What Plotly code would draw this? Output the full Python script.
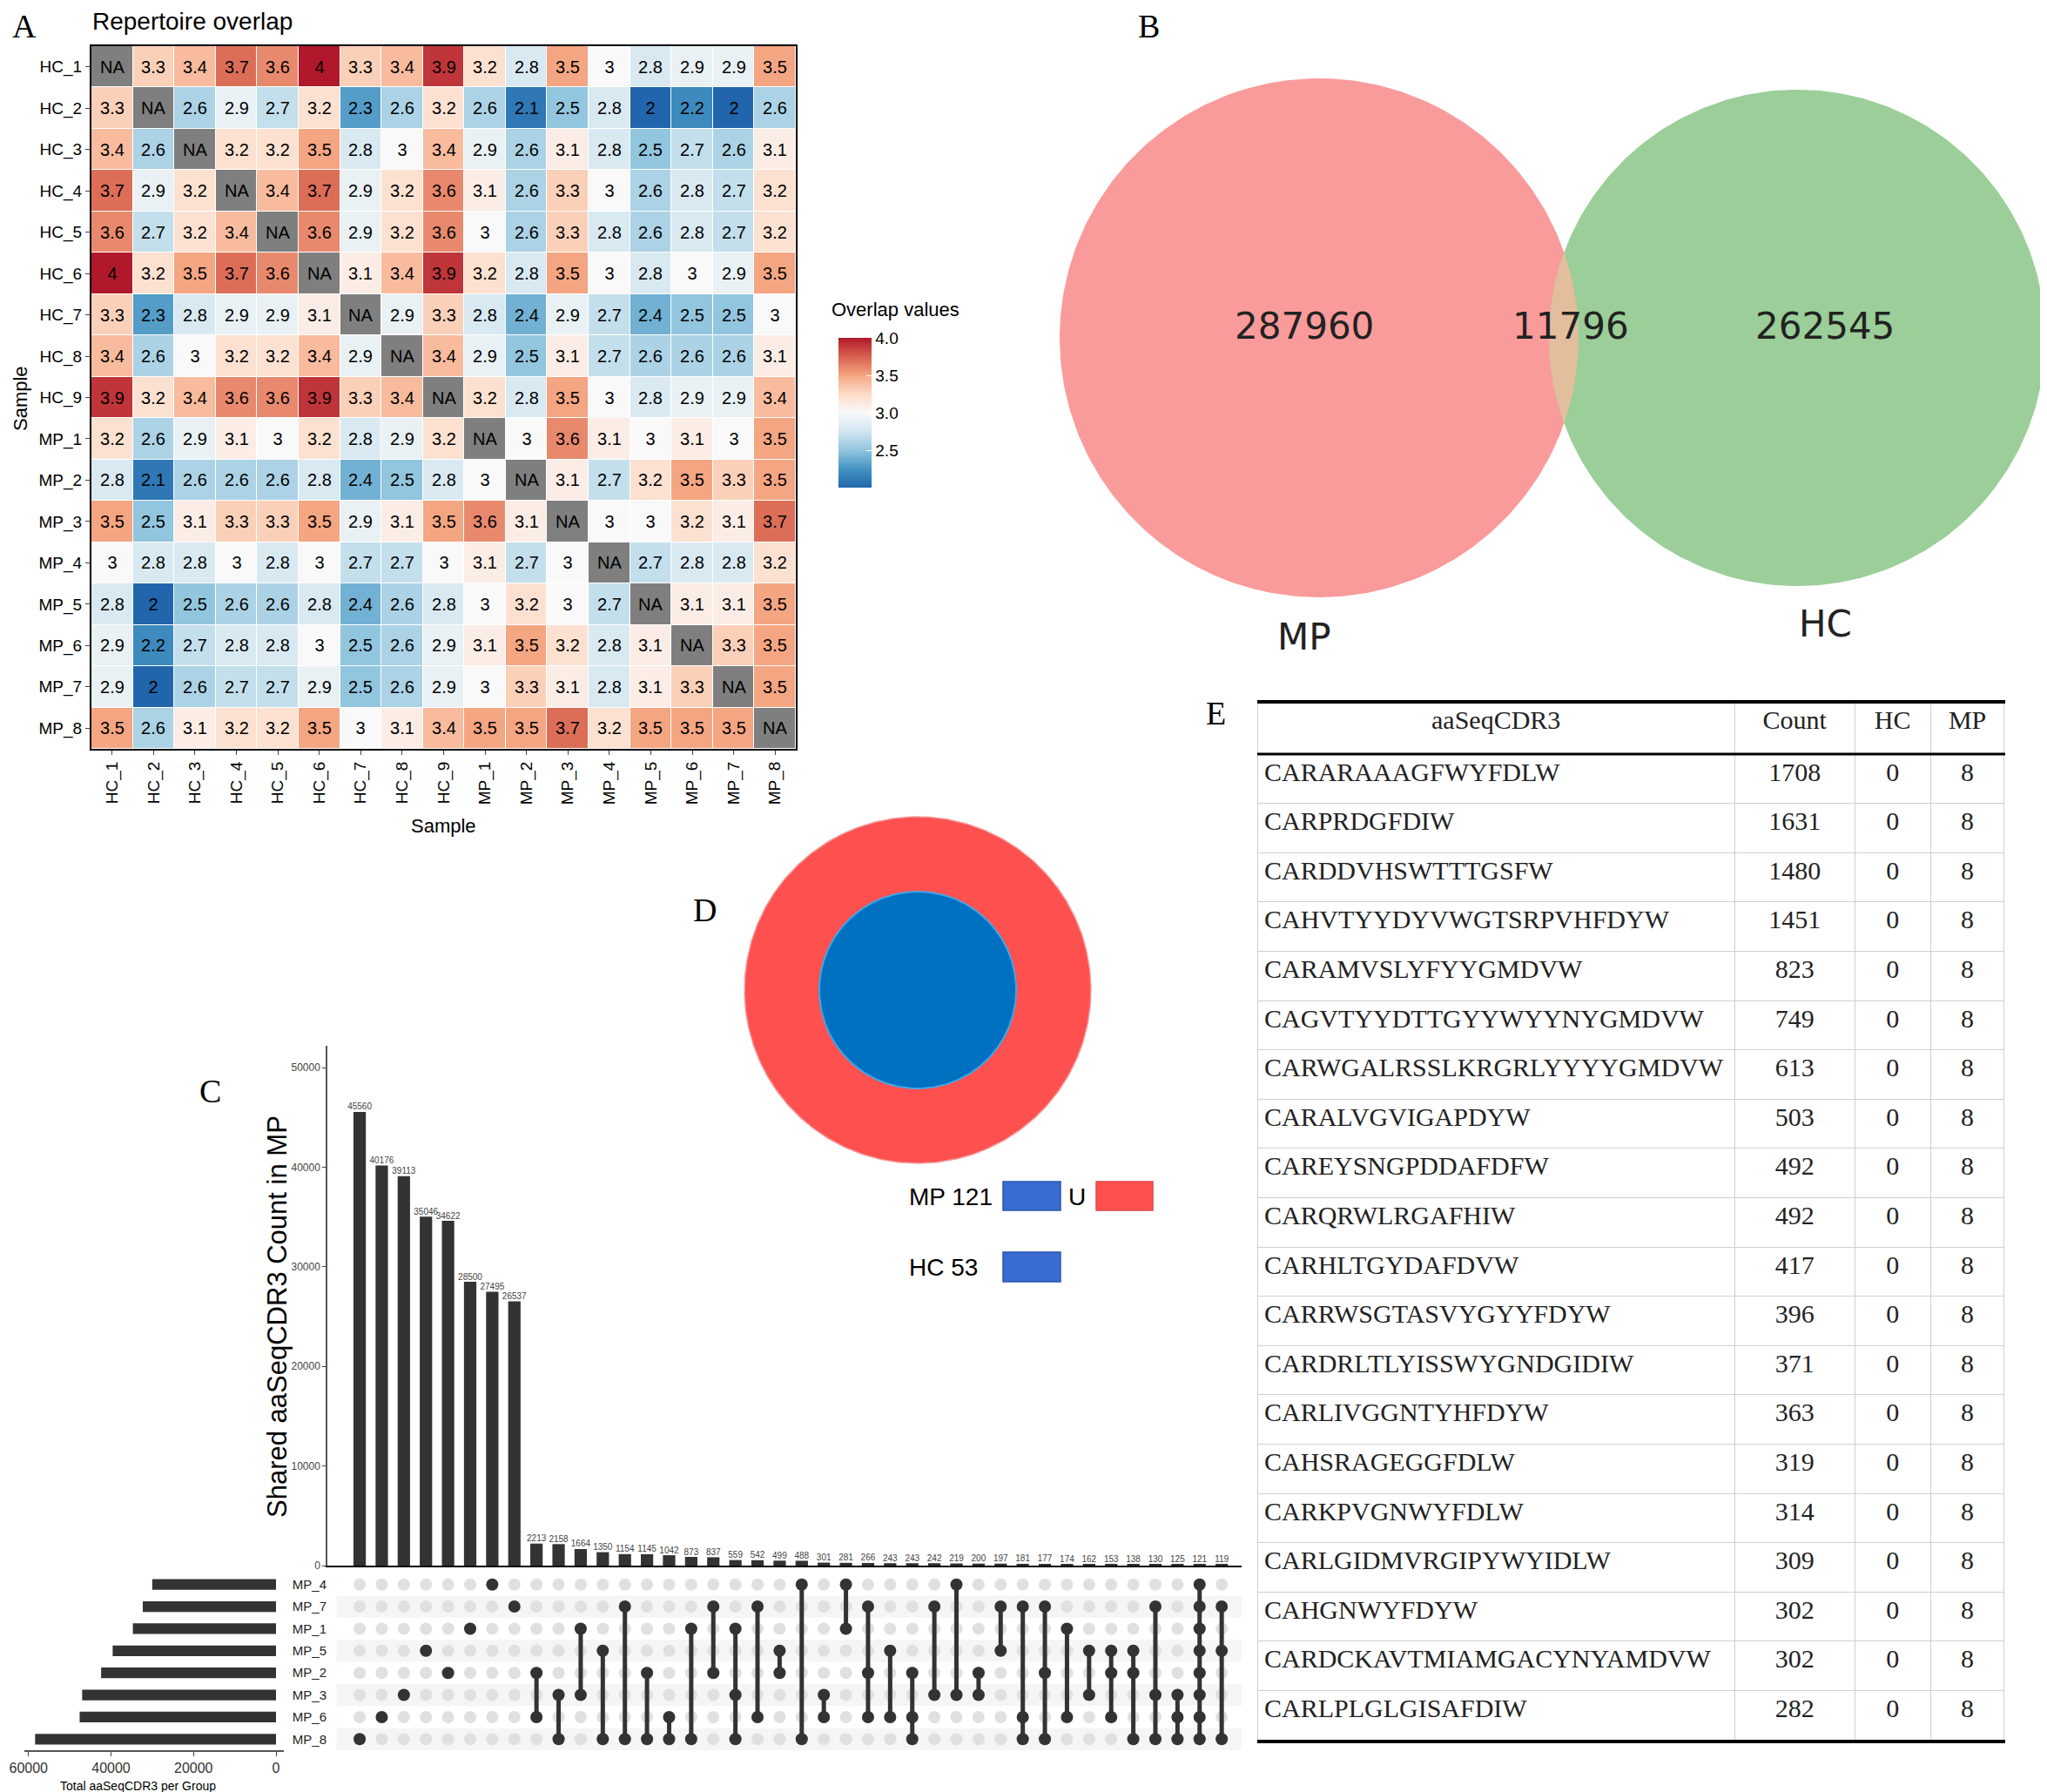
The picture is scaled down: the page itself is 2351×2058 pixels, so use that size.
import numpy as np
import plotly.graph_objects as go

W, H = 2351, 2058

# ---------------- A: repertoire overlap ----------------
samples = ["HC_1", "HC_2", "HC_3", "HC_4", "HC_5", "HC_6", "HC_7", "HC_8", "HC_9",
           "MP_1", "MP_2", "MP_3", "MP_4", "MP_5", "MP_6", "MP_7", "MP_8"]
NA = None
overlap = [
    [NA, 3.3, 3.4, 3.7, 3.6, 4.0, 3.3, 3.4, 3.9, 3.2, 2.8, 3.5, 3.0, 2.8, 2.9, 2.9, 3.5],
    [3.3, NA, 2.6, 2.9, 2.7, 3.2, 2.3, 2.6, 3.2, 2.6, 2.1, 2.5, 2.8, 2.0, 2.2, 2.0, 2.6],
    [3.4, 2.6, NA, 3.2, 3.2, 3.5, 2.8, 3.0, 3.4, 2.9, 2.6, 3.1, 2.8, 2.5, 2.7, 2.6, 3.1],
    [3.7, 2.9, 3.2, NA, 3.4, 3.7, 2.9, 3.2, 3.6, 3.1, 2.6, 3.3, 3.0, 2.6, 2.8, 2.7, 3.2],
    [3.6, 2.7, 3.2, 3.4, NA, 3.6, 2.9, 3.2, 3.6, 3.0, 2.6, 3.3, 2.8, 2.6, 2.8, 2.7, 3.2],
    [4.0, 3.2, 3.5, 3.7, 3.6, NA, 3.1, 3.4, 3.9, 3.2, 2.8, 3.5, 3.0, 2.8, 3.0, 2.9, 3.5],
    [3.3, 2.3, 2.8, 2.9, 2.9, 3.1, NA, 2.9, 3.3, 2.8, 2.4, 2.9, 2.7, 2.4, 2.5, 2.5, 3.0],
    [3.4, 2.6, 3.0, 3.2, 3.2, 3.4, 2.9, NA, 3.4, 2.9, 2.5, 3.1, 2.7, 2.6, 2.6, 2.6, 3.1],
    [3.9, 3.2, 3.4, 3.6, 3.6, 3.9, 3.3, 3.4, NA, 3.2, 2.8, 3.5, 3.0, 2.8, 2.9, 2.9, 3.4],
    [3.2, 2.6, 2.9, 3.1, 3.0, 3.2, 2.8, 2.9, 3.2, NA, 3.0, 3.6, 3.1, 3.0, 3.1, 3.0, 3.5],
    [2.8, 2.1, 2.6, 2.6, 2.6, 2.8, 2.4, 2.5, 2.8, 3.0, NA, 3.1, 2.7, 3.2, 3.5, 3.3, 3.5],
    [3.5, 2.5, 3.1, 3.3, 3.3, 3.5, 2.9, 3.1, 3.5, 3.6, 3.1, NA, 3.0, 3.0, 3.2, 3.1, 3.7],
    [3.0, 2.8, 2.8, 3.0, 2.8, 3.0, 2.7, 2.7, 3.0, 3.1, 2.7, 3.0, NA, 2.7, 2.8, 2.8, 3.2],
    [2.8, 2.0, 2.5, 2.6, 2.6, 2.8, 2.4, 2.6, 2.8, 3.0, 3.2, 3.0, 2.7, NA, 3.1, 3.1, 3.5],
    [2.9, 2.2, 2.7, 2.8, 2.8, 3.0, 2.5, 2.6, 2.9, 3.1, 3.5, 3.2, 2.8, 3.1, NA, 3.3, 3.5],
    [2.9, 2.0, 2.6, 2.7, 2.7, 2.9, 2.5, 2.6, 2.9, 3.0, 3.3, 3.1, 2.8, 3.1, 3.3, NA, 3.5],
    [3.5, 2.6, 3.1, 3.2, 3.2, 3.5, 3.0, 3.1, 3.4, 3.5, 3.5, 3.7, 3.2, 3.5, 3.5, 3.5, NA],
]
legend_ticks = [2.5, 3.0, 3.5, 4.0]

# ---------------- B: venn ----------------
venn_groups = ["MP", "HC"]
venn_only = [287960, 262545]
venn_shared = 11796

# ---------------- C: upset ----------------
upset_sets = ["MP_4", "MP_7", "MP_1", "MP_5", "MP_2", "MP_3", "MP_6", "MP_8"]
set_totals = [30000, 32300, 34700, 39600, 42400, 47000, 47600, 58400]
inter_counts = [45560, 40176, 39113, 35046, 34622, 28500, 27495, 26537, 2213, 2158,
                1664, 1350, 1154, 1145, 1042, 873, 837, 559, 542, 499,
                488, 301, 281, 266, 243, 243, 242, 219, 200, 197,
                181, 177, 174, 162, 153, 138, 130, 125, 121, 119]
inter_members = [
    ["MP_8"], ["MP_6"], ["MP_3"], ["MP_5"], ["MP_2"], ["MP_1"], ["MP_4"], ["MP_7"],
    ["MP_2", "MP_6"], ["MP_3", "MP_8"], ["MP_1", "MP_3"], ["MP_5", "MP_8"],
    ["MP_7", "MP_8"], ["MP_2", "MP_8"], ["MP_6", "MP_8"], ["MP_1", "MP_8"],
    ["MP_7", "MP_2"], ["MP_1", "MP_3", "MP_8"], ["MP_7", "MP_6"], ["MP_5", "MP_2"],
    ["MP_4", "MP_8"], ["MP_3", "MP_6"], ["MP_4", "MP_1"], ["MP_7", "MP_2", "MP_6"],
    ["MP_5", "MP_6"], ["MP_2", "MP_6", "MP_8"], ["MP_7", "MP_3"], ["MP_4", "MP_3"],
    ["MP_2", "MP_3"], ["MP_7", "MP_5"], ["MP_7", "MP_6", "MP_8"], ["MP_7", "MP_2", "MP_8"],
    ["MP_1", "MP_6"], ["MP_5", "MP_3"], ["MP_5", "MP_2", "MP_6"], ["MP_5", "MP_2", "MP_8"],
    ["MP_7", "MP_3", "MP_8"], ["MP_3", "MP_6", "MP_8"],
    ["MP_4", "MP_7", "MP_1", "MP_5", "MP_2", "MP_3", "MP_6", "MP_8"],
    ["MP_7", "MP_5", "MP_8"],
]

# ---------------- D: core clonotypes ----------------
core_groups = ["MP", "HC"]
core_counts = [121, 53]

# ---------------- E: table ----------------
cdr3_seqs = ["CARARAAAGFWYFDLW", "CARPRDGFDIW", "CARDDVHSWTTTGSFW", "CAHVTYYDYVWGTSRPVHFDYW",
             "CARAMVSLYFYYGMDVW", "CAGVTYYDTTGYYWYYNYGMDVW", "CARWGALRSSLKRGRLYYYYGMDVW",
             "CARALVGVIGAPDYW", "CAREYSNGPDDAFDFW", "CARQRWLRGAFHIW", "CARHLTGYDAFDVW",
             "CARRWSGTASVYGYYFDYW", "CARDRLTLYISSWYGNDGIDIW", "CARLIVGGNTYHFDYW",
             "CAHSRAGEGGFDLW", "CARKPVGNWYFDLW", "CARLGIDMVRGIPYWYIDLW", "CAHGNWYFDYW",
             "CARDCKAVTMIAMGACYNYAMDVW", "CARLPLGLGISAFDIW"]
cdr3_counts = [1708, 1631, 1480, 1451, 823, 749, 613, 503, 492, 492,
               417, 396, 371, 363, 319, 314, 309, 302, 302, 282]
cdr3_hc = [0] * 20
cdr3_mp = [8] * 20


def px(x):
    return x / W


def py(y):
    return 1 - y / H


fig = go.Figure()

# heatmap
rdbu = [[0, "#2166AC"], [0.125, "#4393C3"], [0.25, "#92C5DE"], [0.375, "#D1E5F0"],
        [0.5, "#F9F9F9"], [0.625, "#FDDBC7"], [0.75, "#F4A582"], [0.875, "#D6604D"],
        [1, "#B2182B"]]
heat_text = [["" if v is None else f"{v:g}" for v in row] for row in overlap]
na_z = [[1 if v is None else None for v in row] for row in overlap]
na_text = [["NA" if v is None else "" for v in row] for row in overlap]

fig.add_trace(go.Heatmap(
    x=samples, y=samples, z=overlap, text=heat_text, texttemplate="%{text}",
    textfont=dict(size=20, family="Liberation Sans", color="black"),
    colorscale=rdbu, zmin=2, zmax=4, xgap=1, ygap=1, hoverinfo="skip",
    colorbar=dict(x=px(945), xanchor="left", y=py(466), yanchor="middle",
                  len=192, lenmode="pixels", thickness=38, thicknessmode="pixels",
                  outlinewidth=0, tickvals=legend_ticks,
                  ticktext=[f"{t:.1f}" for t in legend_ticks],
                  ticks="inside", ticklen=6, tickcolor="white",
                  tickfont=dict(size=19, family="Liberation Sans", color="black")),
    xaxis="x", yaxis="y"))
fig.add_trace(go.Heatmap(
    x=samples, y=samples, z=na_z, text=na_text, texttemplate="%{text}",
    textfont=dict(size=20, family="Liberation Sans", color="black"),
    colorscale=[[0, "#7F7F7F"], [1, "#7F7F7F"]], showscale=False,
    xgap=1, ygap=1, hoverinfo="skip", xaxis="x", yaxis="y"))

# upset: intersection bars
idx = list(range(1, len(inter_counts) + 1))
fig.add_trace(go.Bar(
    x=idx, y=inter_counts, width=0.56, marker=dict(color="#333333", line=dict(width=0)),
    hoverinfo="skip", xaxis="x2", yaxis="y2"))
fig.add_trace(go.Scatter(
    x=idx, y=inter_counts, mode="text", text=[str(c) for c in inter_counts],
    textposition="top center", cliponaxis=False,
    textfont=dict(size=10, family="Liberation Sans", color="#444444"),
    hoverinfo="skip", xaxis="x2", yaxis="y2"))

# upset: matrix
gx, gy = [], []
for i in idx:
    for s in upset_sets:
        gx.append(i)
        gy.append(s)
fig.add_trace(go.Scatter(x=gx, y=gy, mode="markers",
                         marker=dict(size=14, color="#E0E0E0"), hoverinfo="skip",
                         xaxis="x3", yaxis="y3"))
lx, ly, dx, dy = [], [], [], []
for i, mem in zip(idx, inter_members):
    rows = sorted(upset_sets.index(m) for m in mem)
    if len(rows) > 1:
        lx += [i, i, None]
        ly += [upset_sets[rows[0]], upset_sets[rows[-1]], None]
    for m in mem:
        dx.append(i)
        dy.append(m)
fig.add_trace(go.Scatter(x=lx, y=ly, mode="lines", line=dict(color="#333333", width=5),
                         hoverinfo="skip", xaxis="x3", yaxis="y3"))
fig.add_trace(go.Scatter(x=dx, y=dy, mode="markers",
                         marker=dict(size=14, color="#333333"), hoverinfo="skip",
                         xaxis="x3", yaxis="y3"))

# upset: set size bars
fig.add_trace(go.Bar(x=set_totals, y=upset_sets, orientation="h", width=0.48,
                     marker=dict(color="#333333", line=dict(width=0)), hoverinfo="skip",
                     xaxis="x4", yaxis="y4"))

# overlay (pixel space) for venn and donut
th = np.linspace(0, 2 * np.pi, 400)
k = 298 / np.sqrt(venn_only[0] + venn_shared)
r1 = k * np.sqrt(venn_only[0] + venn_shared)
r2 = k * np.sqrt(venn_only[1] + venn_shared)
c1, c2, cy = 1507, 2056, 380
fig.add_trace(go.Scatter(x=c1 + r1 * np.cos(th), y=cy + r1 * np.sin(th), fill="toself",
                         fillcolor="#FA9B9B", mode="lines", line=dict(width=0),
                         hoverinfo="skip", xaxis="x5", yaxis="y5"))
fig.add_trace(go.Scatter(x=c2 + r2 * np.cos(th), y=cy + r2 * np.sin(th), fill="toself",
                         fillcolor="#9BCE98", mode="lines", line=dict(width=0),
                         hoverinfo="skip", xaxis="x5", yaxis="y5"))
d = c2 - c1
a = (d ** 2 + r1 ** 2 - r2 ** 2) / (2 * d)
t1 = np.arccos(a / r1)
t2 = np.arccos((d - a) / r2)
arc1 = np.linspace(-t1, t1, 100)
arc2 = np.linspace(np.pi - t2, np.pi + t2, 100)
lens_x = np.concatenate([c1 + r1 * np.cos(arc1), c2 + r2 * np.cos(arc2)])
lens_y = np.concatenate([cy + r1 * np.sin(arc1), cy + r2 * np.sin(arc2)])
fig.add_trace(go.Scatter(x=lens_x, y=lens_y, fill="toself", fillcolor="#E2BE9C",
                         mode="lines", line=dict(width=0), hoverinfo="skip",
                         xaxis="x5", yaxis="y5"))

# donut (D)
dcx, dcy = 1046, 1129
fig.add_trace(go.Scatter(x=dcx + 199 * np.cos(th), y=dcy + 199 * np.sin(th), fill="toself",
                         fillcolor="#FF5050", mode="lines", line=dict(width=1.5, color="#F0A0A0"),
                         hoverinfo="skip", xaxis="x5", yaxis="y5"))
fig.add_trace(go.Scatter(x=dcx + 113 * np.cos(th), y=dcy + 113 * np.sin(th), fill="toself",
                         fillcolor="#0070C0", mode="lines", line=dict(width=2, color="#3FA6E8"),
                         hoverinfo="skip", xaxis="x5", yaxis="y5"))

# table (E)
tfont = "Liberation Serif"
fig.add_trace(go.Table(
    domain=dict(x=[px(1436), px(2295)], y=[py(1992), py(798)]),
    columnwidth=[549, 138, 87, 85],
    header=dict(values=["aaSeqCDR3", "Count", "HC", "MP"], align="center", height=60,
                font=dict(family=tfont, size=30, color="#222222"), fill_color="white",
                line=dict(color="#CFCFCF", width=1)),
    cells=dict(values=[cdr3_seqs, cdr3_counts, cdr3_hc, cdr3_mp],
               align=["left", "center", "center", "center"], height=56.6,
               font=dict(family=tfont, size=30, color="#222222"), fill_color="white",
               line=dict(color="#CFCFCF", width=1))))

# annotations in pixel space
ann = []


def label(x, y, text, size, family="Liberation Sans", color="black",
          xanchor="center", angle=0):
    ann.append(dict(x=x, y=y, xref="x5", yref="y5", text=text, showarrow=False,
                    font=dict(size=size, family=family, color=color),
                    xanchor=xanchor, yanchor="middle", textangle=angle))


for letter, lx_, ly_ in [("A", 20, 22), ("B", 1311, 22), ("C", 233, 1245),
                         ("D", 801, 1037), ("E", 1388, 811)]:
    label(lx_, ly_, letter, 38, family="Liberation Serif")

label(96, 16, "Repertoire overlap", 28, xanchor="left")
label(501, 940, "Sample", 22)
label(15, 450, "Sample", 22, angle=-90)
label(945, 347, "Overlap values", 22, xanchor="left")

label(1490, 366, str(venn_only[0]), 42, family="DejaVu Sans", color="#222222")
label(1796, 366, str(venn_shared), 42, family="DejaVu Sans", color="#222222")
label(2088, 366, str(venn_only[1]), 42, family="DejaVu Sans", color="#222222")
label(1490, 723, venn_groups[0], 42, family="DejaVu Sans", color="#222222")
label(2088, 708, venn_groups[1], 42, family="DejaVu Sans", color="#222222")

label(310, 1504, "Shared aaSeqCDR3 Count in MP", 31, angle=-90)
label(150, 2043, "Total aaSeqCDR3 per Group", 14)

label(1034, 1366, f"{core_groups[0]} {core_counts[0]}", 28, xanchor="left")
label(1229, 1366, "U", 28)
label(1034, 1447, f"{core_groups[1]} {core_counts[1]}", 28, xanchor="left")

shapes = []
# legend boxes in D
for x0, y0, x1, y1, fc, lc in [(1144, 1349, 1210, 1382, "#3A6BD0", "#2A55B0"),
                               (1251, 1349, 1316, 1382, "#FF5050", "#E04545"),
                               (1144, 1430, 1210, 1464, "#3A6BD0", "#2A55B0")]:
    shapes.append(dict(type="rect", xref="x5", yref="y5", x0=x0, y0=y0, x1=x1, y1=y1,
                       fillcolor=fc, line=dict(color=lc, width=1.5), layer="above"))
# table rules
for yy, wd in [(798, 4), (858, 3), (1992, 4)]:
    shapes.append(dict(type="line", xref="x5", yref="y5", x0=1436, x1=2295, y0=yy, y1=yy,
                       line=dict(color="black", width=wd), layer="above"))
# upset matrix stripes
for k_row in [1, 3, 5, 7]:
    shapes.append(dict(type="rect", xref="x3 domain", yref="y3", x0=0.01, x1=1,
                       y0=k_row - 0.5, y1=k_row + 0.5, fillcolor="#F5F5F5",
                       line=dict(width=0), layer="below"))

xr = [-0.46, 40.9]
fig.update_layout(
    width=W, height=H, margin=dict(l=0, r=0, t=0, b=0),
    paper_bgcolor="white", plot_bgcolor="rgba(0,0,0,0)", template="none",
    showlegend=False, annotations=ann, shapes=shapes,
    font=dict(family="Liberation Sans", color="black"),
    xaxis=dict(domain=[px(97), px(906)], anchor="y", tickangle=-90, ticks="outside",
               ticklen=5, tickfont=dict(size=19), showline=True, mirror=True,
               linecolor="black", linewidth=2, showgrid=False, zeroline=False),
    yaxis=dict(domain=[py(852), py(45)], anchor="x", autorange="reversed", ticks="outside",
               ticklen=5, tickfont=dict(size=19), showline=True, mirror=True,
               linecolor="black", linewidth=2, showgrid=False, zeroline=False),
    xaxis2=dict(domain=[px(368), px(1418)], anchor="y2", range=xr, showticklabels=False,
                ticks="", showline=True, linecolor="black", linewidth=2,
                showgrid=False, zeroline=False),
    yaxis2=dict(domain=[py(1790), py(1193)], anchor="x2", range=[0, 52200],
                tickvals=[0, 10000, 20000, 30000, 40000, 50000], tickformat="d",
                ticks="outside", ticklen=4,
                tickfont=dict(size=12, color="#444444"), showline=True, linecolor="#555555",
                linewidth=1.5, showgrid=False, zeroline=False),
    xaxis3=dict(domain=[px(368), px(1418)], anchor="y3", range=xr, visible=False),
    yaxis3=dict(domain=[py(2002), py(1799)], anchor="x3", type="category",
                categoryorder="array", categoryarray=upset_sets, range=[7.5, -0.5],
                ticks="", tickfont=dict(size=15, color="#222222"), showline=False,
                showgrid=False, zeroline=False),
    xaxis4=dict(domain=[px(20), px(318)], anchor="y4", range=[61000, -1900],
                tickvals=[0, 20000, 40000, 60000], tickformat="d", ticks="outside", ticklen=5,
                tickfont=dict(size=16, color="#333333"), showline=True, linecolor="#555555",
                linewidth=1.5, showgrid=False, zeroline=False),
    yaxis4=dict(domain=[py(2002), py(1799)], anchor="x4", type="category",
                categoryorder="array", categoryarray=upset_sets, range=[7.5, -0.5],
                showticklabels=False, ticks="", showline=False, showgrid=False,
                zeroline=False),
    xaxis5=dict(domain=[0, 1], anchor="y5", range=[0, W], visible=False),
    yaxis5=dict(domain=[0, 1], anchor="x5", range=[H, 0], visible=False),
)

fig.write_html("out.html")
